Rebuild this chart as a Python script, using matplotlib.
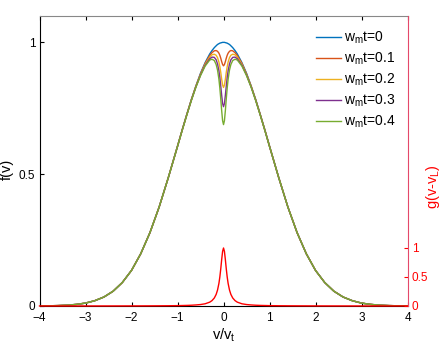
import matplotlib
matplotlib.use('Agg')
import matplotlib.pyplot as plt

plt.rcParams['font.family'] = ['Liberation Sans', 'DejaVu Sans']

# velocity grid (v/v_t)
v = [-4.0, -3.8, -3.6, -3.4, -3.2, -3.0, -2.8, -2.6, -2.4, -2.2, -2.0, -1.8, -1.6, -1.4, -1.2,
     -1.0, -0.9, -0.8, -0.7, -0.6, -0.5, -0.4, -0.3, -0.25, -0.2, -0.16, -0.13, -0.1, -0.08,
     -0.06, -0.04, -0.02, 0.0, 0.02, 0.04, 0.06, 0.08, 0.1, 0.13, 0.16, 0.2, 0.25, 0.3, 0.4,
     0.5, 0.6, 0.7, 0.8, 0.9, 1.0, 1.2, 1.4, 1.6, 1.8, 2.0, 2.2, 2.4, 2.6, 2.8, 3.0, 3.2, 3.4,
     3.6, 3.8, 4.0]

# f(v) for each w_m t
f_t0 = [0.0003, 0.0007, 0.0015, 0.003, 0.006, 0.011, 0.020, 0.034, 0.056, 0.089, 0.135, 0.198, 0.278, 0.375, 0.487,
        0.607, 0.667, 0.726, 0.783, 0.835, 0.883, 0.923, 0.956, 0.969, 0.980, 0.987, 0.992, 0.995, 0.997,
        0.998, 0.999, 1.000, 1.000, 1.000, 0.999, 0.998, 0.997, 0.995, 0.992, 0.987, 0.980, 0.969, 0.956, 0.923,
        0.883, 0.835, 0.783, 0.726, 0.667, 0.607, 0.487, 0.375, 0.278, 0.198, 0.135, 0.089, 0.056, 0.034, 0.020, 0.011, 0.006, 0.003,
        0.0015, 0.0007, 0.0003]
f_t1 = [0.0003, 0.0007, 0.0015, 0.003, 0.006, 0.011, 0.020, 0.034, 0.056, 0.089, 0.135, 0.198, 0.278, 0.375, 0.487,
        0.606, 0.667, 0.725, 0.782, 0.834, 0.880, 0.920, 0.950, 0.961, 0.968, 0.969, 0.966, 0.959, 0.951,
        0.940, 0.927, 0.916, 0.911, 0.916, 0.927, 0.940, 0.951, 0.959, 0.966, 0.969, 0.968, 0.961, 0.950, 0.920,
        0.880, 0.834, 0.782, 0.725, 0.667, 0.606, 0.487, 0.375, 0.278, 0.198, 0.135, 0.089, 0.056, 0.034, 0.020, 0.011, 0.006, 0.003,
        0.0015, 0.0007, 0.0003]
f_t2 = [0.0003, 0.0007, 0.0015, 0.003, 0.006, 0.011, 0.020, 0.034, 0.056, 0.089, 0.135, 0.198, 0.278, 0.375, 0.487,
        0.606, 0.666, 0.725, 0.781, 0.833, 0.878, 0.917, 0.944, 0.953, 0.955, 0.951, 0.942, 0.925, 0.908,
        0.886, 0.860, 0.838, 0.829, 0.838, 0.860, 0.886, 0.908, 0.925, 0.942, 0.951, 0.955, 0.953, 0.944, 0.917,
        0.878, 0.833, 0.781, 0.725, 0.666, 0.606, 0.487, 0.375, 0.278, 0.198, 0.135, 0.089, 0.056, 0.034, 0.020, 0.011, 0.006, 0.003,
        0.0015, 0.0007, 0.0003]
f_t3 = [0.0003, 0.0007, 0.0015, 0.003, 0.006, 0.011, 0.020, 0.034, 0.056, 0.089, 0.135, 0.198, 0.278, 0.375, 0.487,
        0.605, 0.666, 0.724, 0.780, 0.831, 0.876, 0.913, 0.938, 0.944, 0.943, 0.934, 0.918, 0.892, 0.867,
        0.834, 0.799, 0.768, 0.756, 0.768, 0.799, 0.834, 0.867, 0.892, 0.918, 0.934, 0.943, 0.944, 0.938, 0.913,
        0.876, 0.831, 0.780, 0.724, 0.666, 0.605, 0.487, 0.375, 0.278, 0.198, 0.135, 0.089, 0.056, 0.034, 0.020, 0.011, 0.006, 0.003,
        0.0015, 0.0007, 0.0003]
f_t4 = [0.0003, 0.0007, 0.0015, 0.003, 0.006, 0.011, 0.020, 0.034, 0.056, 0.089, 0.135, 0.198, 0.278, 0.375, 0.487,
        0.605, 0.665, 0.723, 0.779, 0.830, 0.874, 0.910, 0.933, 0.936, 0.931, 0.916, 0.895, 0.860, 0.827,
        0.786, 0.741, 0.703, 0.688, 0.703, 0.741, 0.786, 0.827, 0.860, 0.895, 0.916, 0.931, 0.936, 0.933, 0.910,
        0.874, 0.830, 0.779, 0.723, 0.665, 0.605, 0.487, 0.375, 0.278, 0.198, 0.135, 0.089, 0.056, 0.034, 0.020, 0.011, 0.006, 0.003,
        0.0015, 0.0007, 0.0003]

# g(v - v_L), right axis
g_L = [0.0004, 0.0004, 0.0005, 0.0006, 0.0006, 0.0007, 0.0008, 0.0009, 0.001, 0.0013, 0.0016, 0.002, 0.0025, 0.0033, 0.0044,
       0.006, 0.008, 0.010, 0.013, 0.018, 0.025, 0.038, 0.066, 0.093, 0.138, 0.200, 0.275, 0.390, 0.500,
       0.640, 0.800, 0.941, 1.000, 0.941, 0.800, 0.640, 0.500, 0.390, 0.275, 0.200, 0.138, 0.093, 0.066, 0.038,
       0.025, 0.018, 0.013, 0.010, 0.008, 0.006, 0.0044, 0.0033, 0.0025, 0.002, 0.0016, 0.0013, 0.001, 0.0009, 0.0008, 0.0007, 0.0006, 0.0006,
       0.0005, 0.0004, 0.0004]

labels = [r'w$_\mathregular{m}$t=0', r'w$_\mathregular{m}$t=0.1', r'w$_\mathregular{m}$t=0.2',
          r'w$_\mathregular{m}$t=0.3', r'w$_\mathregular{m}$t=0.4']
colors = ['#0072BD', '#D95319', '#EDB120', '#7E2F8E', '#77AC30']

fig = plt.figure(figsize=(4.43, 3.44), dpi=100)
ax = fig.add_axes([0.0892, 0.1105, 0.8307, 0.843])

for y, lab, c in zip([f_t0, f_t1, f_t2, f_t3, f_t4], labels, colors):
    ax.plot(v, y, color=c, lw=1.0, label=lab)

ax.set_xlim(-4, 4)
ax.set_ylim(0, 1.1)
ax.set_xticks(range(-4, 5))
ax.set_yticks([0, 0.5, 1])
ax.set_yticklabels(['0', '0.5', '1'])
ax.tick_params(direction='in', length=3, labelsize=8.5, top=True)
ax.tick_params(axis='x', pad=4.5)
ax.tick_params(axis='y', pad=3)
ax.spines['top'].set_color('#888888')
ax.spines['right'].set_visible(False)
ax.set_xlabel(r'v/v$_\mathregular{t}$', fontsize=10.5, labelpad=1.5)
ax.set_ylabel('f(v)', fontsize=10.5)
ax.yaxis.set_label_coords(-0.069, 0.47)

leg = ax.legend(loc='upper left', bbox_to_anchor=(0.74, 0.967), frameon=False, fontsize=10,
                handlelength=1.8, handletextpad=0.2, labelspacing=0.33, borderaxespad=0.0,
                borderpad=0.3)

# right axis
ax2 = ax.twinx()
ax2.plot(v, g_L, color='red', lw=1.0, clip_on=False)
ax2.set_ylim(0, 5)
ax2.set_yticks([0, 0.5, 1])
ax2.set_yticklabels(['0', '0.5', '1'])
ax2.tick_params(direction='in', length=3, labelsize=8.5, colors='red', pad=3)
for s in ['top', 'bottom', 'left']:
    ax2.spines[s].set_visible(False)
ax2.spines['right'].set_color('#E5486A')
ax2.set_ylabel(r'g(v-v$_\mathregular{L}$)', fontsize=10.5, color='red')
ax2.yaxis.set_label_coords(1.045, 0.41)

fig.savefig('out.png', dpi=100)
